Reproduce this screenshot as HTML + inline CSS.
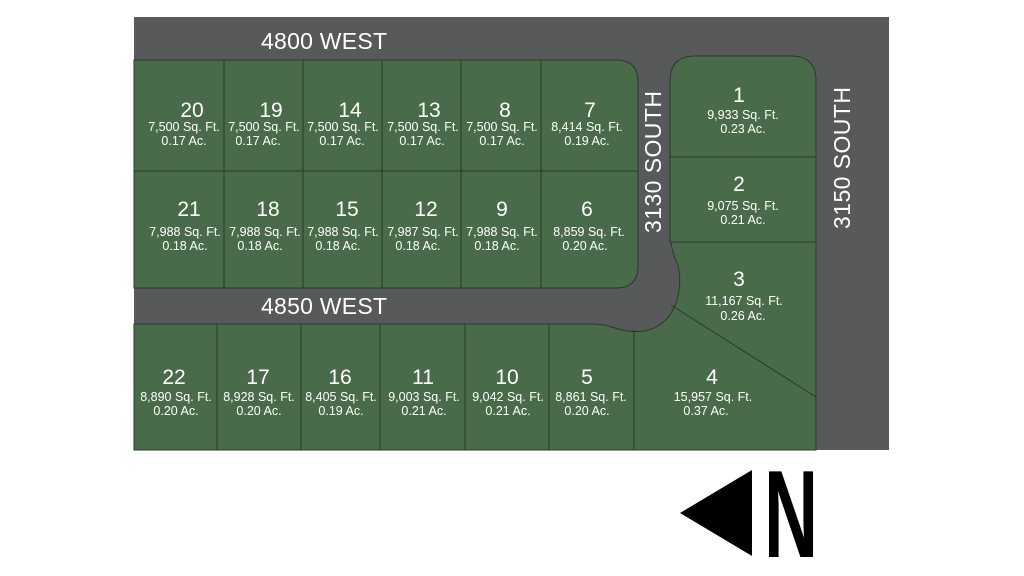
<!DOCTYPE html>
<html><head><meta charset="utf-8"><style>
html,body{margin:0;padding:0;background:#fff;width:1024px;height:576px;overflow:hidden}
svg text{font-family:"Liberation Sans",sans-serif;fill:#fff}
</style></head><body>
<svg width="1024" height="576" viewBox="0 0 1024 576" xmlns="http://www.w3.org/2000/svg">
<rect x="134" y="17" width="755" height="433" fill="#58595b"/>
<g fill="#4a6b4a" stroke="#2a3a2a" stroke-width="1">
<path d="M134,60 H616 Q638,60 638,82 V266 Q638,288 616,288 H134 Z"/>
<path d="M695,56 H791 Q816,56 816,81 V242 H670 V81 Q670,56 695,56 Z"/>
<path d="M134,324 H590 Q605,324 615,328 Q630,333 645,331 Q670,325 677,300 Q682,282 678,266 Q672,252 671,242 H816 V450 H134 Z"/>
</g>
<g stroke="#2a3a2a" stroke-width="1" fill="none">
<path d="M224,60V288M303,60V288M382,60V288M461,60V288M541,60V288M134,171H638"/>
<path d="M670,157H816M671,305L816,397"/>
<path d="M217,324V450M301,324V450M380,324V450M465,324V450M549,324V450M634,330V450"/>
</g>
<g font-size="23" text-anchor="middle">
<text x="324" y="49" textLength="126">4800 WEST</text>
<text x="324" y="314" textLength="126">4850 WEST</text>
<text transform="translate(661,162) rotate(-90)" textLength="142">3130 SOUTH</text>
<text transform="translate(850,158) rotate(-90)" textLength="142">3150 SOUTH</text>
</g>
<g text-anchor="middle">
<g font-size="21">
<text x="192" y="117">20</text><text x="271" y="117">19</text><text x="350" y="117">14</text><text x="429" y="117">13</text><text x="505" y="117">8</text><text x="590" y="117">7</text>
<text x="189" y="216">21</text><text x="268" y="216">18</text><text x="347" y="216">15</text><text x="426" y="216">12</text><text x="502" y="216">9</text><text x="587" y="216">6</text>
<text x="739" y="102">1</text><text x="739" y="191">2</text><text x="739" y="286">3</text><text x="712" y="384">4</text>
<text x="174" y="384">22</text><text x="258" y="384">17</text><text x="340" y="384">16</text><text x="423" y="384">11</text><text x="507" y="384">10</text><text x="587" y="384">5</text>
</g>
<g font-size="12.5">
<text x="184" y="131">7,500 Sq. Ft.</text><text x="184" y="145">0.17 Ac.</text>
<text x="264" y="131">7,500 Sq. Ft.</text><text x="258" y="145">0.17 Ac.</text>
<text x="343" y="131">7,500 Sq. Ft.</text><text x="342" y="145">0.17 Ac.</text>
<text x="423" y="131">7,500 Sq. Ft.</text><text x="422" y="145">0.17 Ac.</text>
<text x="502" y="131">7,500 Sq. Ft.</text><text x="502" y="145">0.17 Ac.</text>
<text x="587" y="131">8,414 Sq. Ft.</text><text x="587" y="145">0.19 Ac.</text>
<text x="185" y="236">7,988 Sq. Ft.</text><text x="185" y="250">0.18 Ac.</text>
<text x="265" y="236">7,988 Sq. Ft.</text><text x="260" y="250">0.18 Ac.</text>
<text x="343" y="236">7,988 Sq. Ft.</text><text x="338" y="250">0.18 Ac.</text>
<text x="423" y="236">7,987 Sq. Ft.</text><text x="418" y="250">0.18 Ac.</text>
<text x="502" y="236">7,988 Sq. Ft.</text><text x="497" y="250">0.18 Ac.</text>
<text x="589" y="236">8,859 Sq. Ft.</text><text x="585" y="250">0.20 Ac.</text>
<text x="743" y="119">9,933 Sq. Ft.</text><text x="743" y="133">0.23 Ac.</text>
<text x="743" y="210">9,075 Sq. Ft.</text><text x="743" y="224">0.21 Ac.</text>
<text x="744" y="305">11,167 Sq. Ft.</text><text x="743" y="320">0.26 Ac.</text>
<text x="713" y="401">15,957 Sq. Ft.</text><text x="706" y="415">0.37 Ac.</text>
<text x="176" y="401">8,890 Sq. Ft.</text><text x="176" y="415">0.20 Ac.</text>
<text x="259" y="401">8,928 Sq. Ft.</text><text x="259" y="415">0.20 Ac.</text>
<text x="341" y="401">8,405 Sq. Ft.</text><text x="341" y="415">0.19 Ac.</text>
<text x="424" y="401">9,003 Sq. Ft.</text><text x="424" y="415">0.21 Ac.</text>
<text x="508" y="401">9,042 Sq. Ft.</text><text x="508" y="415">0.21 Ac.</text>
<text x="591" y="401">8,861 Sq. Ft.</text><text x="587" y="415">0.20 Ac.</text>
</g>
</g>
<polygon points="680,513 752,470 752,556" fill="#000"/>
<text transform="translate(764,557) scale(0.72,1.2)" font-size="104" font-weight="bold" style="fill:#000">N</text>
</svg>
</body></html>
